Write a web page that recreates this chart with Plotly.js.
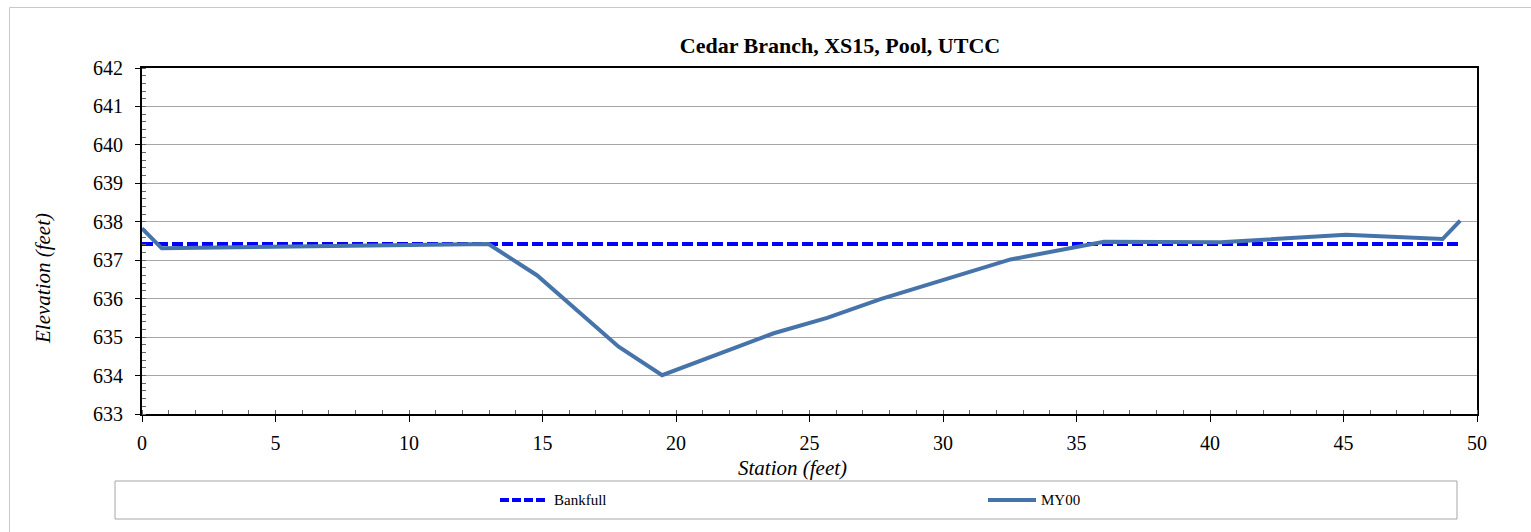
<!DOCTYPE html>
<html>
<head>
<meta charset="utf-8">
<script src="https://cdn.plot.ly/plotly-3.0.1.min.js"></script>
<style>html,body{margin:0;padding:0;background:#fff;}#chart{width:1531px;height:532px;}</style>
</head>
<body>
<div id="chart"></div>
<script>
// ---- data ----
const chartTitle = "Cedar Branch, XS15, Pool, UTCC";
const xTitle = "Station (feet)";
const yTitle = "Elevation (feet)";

const bankfullName = "Bankfull";
const bankfullStation = [0, 49.37];
const bankfullElev = [637.42, 637.42];

const my00Name = "MY00";
const my00Station = [0, 0.74, 12.98, 14.79, 17.85, 19.48, 23.66, 25.66, 27.66, 30.15, 32.53, 36.03, 40.4, 45.09, 48.71, 49.37];
const my00Elev = [637.83, 637.31, 637.42, 636.61, 634.75, 634.01, 635.10, 635.50, 635.99, 636.53, 637.02, 637.48, 637.47, 637.66, 637.55, 638.03];

// ---- styles ----
const FONT = "'Liberation Serif', 'DejaVu Serif', serif";
const bankColor = "#0000FF";
const myColor = "#4674AA";

const traces = [
  {x: bankfullStation, y: bankfullElev, name: bankfullName, mode: "lines",
   line: {color: bankColor, width: 4, dash: "11px,4px"}},
  {x: my00Station, y: my00Elev, name: my00Name, mode: "lines",
   line: {color: myColor, width: 4}}
];

// plot area pixels: x 142..1477, y 68..414
const L = 142, R = 1477, T = 68, B = 414;
const px = v => (v - L) / (R - L);
const py = v => (B - v) / (B - T);

const legY = py(500);
const shapes = [
  {type: "rect", xref: "paper", yref: "paper", x0: px(9.5), x1: px(1545), y0: py(545), y1: py(7.5),
   line: {color: "#C8C8C8", width: 1}, fillcolor: "rgba(0,0,0,0)", layer: "below"},
  {type: "rect", xref: "paper", yref: "paper", x0: px(115), x1: px(1457), y0: py(519), y1: py(481),
   line: {color: "#A6A6A6", width: 1}, fillcolor: "rgba(0,0,0,0)"},
  {type: "line", xref: "paper", yref: "paper", x0: px(500), x1: px(547), y0: legY, y1: legY,
   line: {color: bankColor, width: 4, dash: "9px,3px"}},
  {type: "line", xref: "paper", yref: "paper", x0: px(988), x1: px(1036), y0: legY, y1: legY,
   line: {color: myColor, width: 4}}
];

const annotations = [
  {text: bankfullName, xref: "paper", yref: "paper", x: px(552), y: legY, xanchor: "left", yanchor: "middle",
   showarrow: false, font: {family: FONT, size: 15, color: "#000"}},
  {text: my00Name, xref: "paper", yref: "paper", x: px(1039), y: legY, xanchor: "left", yanchor: "middle",
   showarrow: false, font: {family: FONT, size: 15, color: "#000"}},
  // axis titles
  {text: "<i>" + xTitle + "</i>", xref: "paper", yref: "paper", x: px(792), y: py(468),
   xanchor: "center", yanchor: "middle", showarrow: false, font: {family: FONT, size: 21, color: "#000"}},
  {text: "<i>" + yTitle + "</i>", xref: "paper", yref: "paper", x: px(43), y: py(279), textangle: -90,
   xanchor: "center", yanchor: "middle", showarrow: false, font: {family: FONT, size: 21, color: "#000"}}
];

const layout = {
  width: 1531, height: 532,
  margin: {l: L, r: 1531 - R, t: T, b: 532 - B, pad: 0},
  paper_bgcolor: "#fff", plot_bgcolor: "#fff",
  showlegend: false,
  font: {family: FONT, size: 20, color: "#000"},
  title: {text: "<b>" + chartTitle + "</b>", x: px(840), xref: "paper", xanchor: "center",
          y: 1 - 45 / 532, yref: "container", yanchor: "middle",
          font: {family: FONT, size: 22, color: "#000"}},
  xaxis: {
    range: [0, 50], dtick: 5, tick0: 0, showgrid: false, zeroline: false,
    showline: true, linecolor: "#000", linewidth: 2, mirror: true,
    ticks: "outside", ticklen: 6, tickcolor: "#000", tickwidth: 1,
    minor: {dtick: 1, ticks: "inside", ticklen: 4, tickcolor: "#666", showgrid: false},
    tickfont: {family: FONT, size: 20, color: "#000"},
    ticklabelstandoff: 4
  },
  yaxis: {
    range: [633, 642], dtick: 1, tick0: 633, showgrid: true, gridcolor: "#A6A6A6", gridwidth: 1,
    zeroline: false,
    showline: true, linecolor: "#000", linewidth: 2, mirror: true,
    ticks: "outside", ticklen: 5, tickcolor: "#000", tickwidth: 1,
    minor: {dtick: 0.2, ticks: "inside", ticklen: 4, tickcolor: "#666", showgrid: false},
    tickfont: {family: FONT, size: 20, color: "#000"},
    ticklabelstandoff: 8
  },
  shapes: shapes,
  annotations: annotations
};

Plotly.newPlot("chart", traces, layout, {displayModeBar: false, staticPlot: true});
</script>
</body>
</html>
